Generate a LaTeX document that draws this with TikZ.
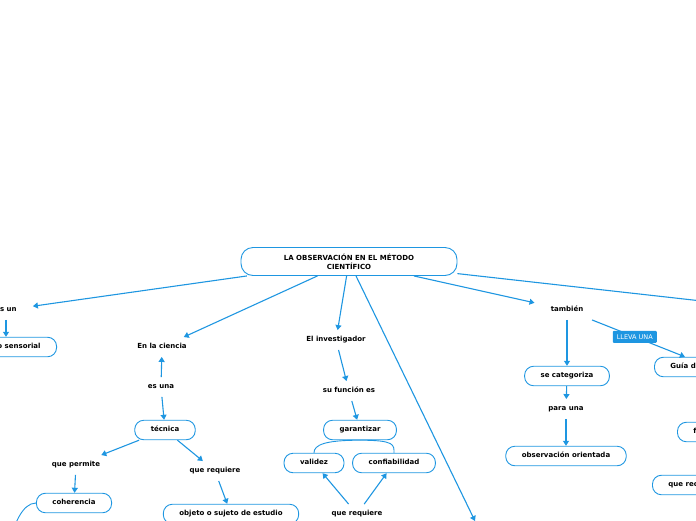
\documentclass[tikz,border=0pt]{standalone}
\usepackage{fontspec}
\setmainfont{DejaVu Sans}
\usetikzlibrary{arrows.meta}
\definecolor{azul}{RGB}{30,150,225}

\begin{document}
\begin{tikzpicture}[x=1pt,y=-1pt]
        \tikzstyle{texto}=[inner xsep=16pt,inner ysep=0pt,minimum height=19.5pt,text height=4.8pt,text depth=2.2pt,font=\fontsize{7}{9}\selectfont\bfseries]
        \tikzstyle{caja}=[texto,draw=azul,line width=0.9pt,rounded corners=9pt]
        \tikzstyle{raiz}=[caja,align=center,text height=,text depth=,minimum width=216pt,minimum height=28pt,rounded corners=12pt]
        \tikzstyle{flecha}=[draw=azul,line width=1.1pt,-{Triangle[width=6pt,length=5pt]}]
        \tikzstyle{rama}=[draw=azul,line width=0.9pt]
        \tikzstyle{etiqueta}=[fill=azul,text=white,rounded corners=1pt,inner xsep=4pt,inner ysep=0pt,minimum height=12pt,font=\fontsize{6.5}{7}\selectfont]
        \clip (0,0) rectangle (696,520);
        \node[raiz] (raiz) at (349,261.5) {LA OBSERVACIÓN EN EL MÉTODO\\CIENTÍFICO};
        \node[texto] (esun) at (6,310) {Es un};
        \node[caja,anchor=east] (sensorial) at (57,347) {proceso sensorial};
        \node[texto] (ciencia) at (162,347) {En la ciencia};
        \node[texto] (esuna) at (161,387) {es una};
        \node[caja] (tecnica) at (165,430) {técnica};
        \node[texto] (permite) at (76,465) {que permite};
        \node[texto] (requiere) at (215,471) {que requiere};
        \node[caja] (coherencia) at (74,503) {coherencia};
        \node[caja] (objeto) at (231,514) {objeto o sujeto de estudio};
        \node[texto] (investigador) at (336,340) {El investigador};
        \node[texto] (funcion) at (349,391) {su función es};
        \node[caja] (garantizar) at (360,430) {garantizar};
        \node[caja] (validez) at (314,463) {validez};
        \node[caja] (confiabilidad) at (394,463) {confiabilidad};
        \node[texto] (requieredos) at (357,514) {que requiere};
        \node[texto] (tambien) at (567,310) {también};
        \node[caja] (categoriza) at (567,376) {se categoriza};
        \node[texto] (parauna) at (566,409) {para una};
        \node[caja] (orientada) at (566,456) {observación orientada};
        \node[caja,anchor=west] (guia) at (654,367) {Guía de observación};
        \node[caja,anchor=west] (formato) at (677,432) {formato};
        \node[caja,anchor=west] (recoge) at (652,485) {que recoge};
        \coordinate (derecha) at (800,312);
        \coordinate (abajo) at (475,521);
        \coordinate (abajoizq) at (10,540);
        \draw[flecha] (raiz) -- (esun);
        \draw[flecha] (esun.south) -- (esun.south |- sensorial.north);
        \draw[flecha] (raiz) -- (ciencia);
        \draw[flecha] (esuna) -- (ciencia);
        \draw[flecha] (esuna) -- (tecnica);
        \draw[flecha] (tecnica) -- (permite);
        \draw[flecha] (tecnica) -- (requiere);
        \draw[flecha] (permite) -- (coherencia);
        \draw[flecha] (requiere) -- (objeto);
        \draw[rama] (coherencia.west) .. controls +(-14,0) and +(4,-14) .. (abajoizq);
        \draw[flecha] (raiz) -- (investigador);
        \draw[flecha] (investigador) -- (funcion);
        \draw[flecha] (funcion) -- (garantizar);
        \draw[rama] (garantizar.south) .. controls +(-35,0) and +(0,-8) .. (validez.north);
        \draw[rama] (garantizar.south) .. controls +(35,0) and +(0,-8) .. (confiabilidad.north);
        \draw[flecha] (requieredos) -- (validez);
        \draw[flecha] (requieredos) -- (confiabilidad);
        \draw[flecha] (raiz) -- (abajo);
        \draw[flecha] (raiz) -- (tambien);
        \draw[flecha] (raiz) -- (derecha);
        \draw[flecha] (tambien) -- (categoriza);
        \draw[flecha] (categoriza) -- (parauna);
        \draw[flecha] (parauna) -- (orientada);
        \draw[flecha] (tambien) -- node[etiqueta,pos=0.46] {LLEVA UNA} (guia);
    \end{tikzpicture}
\end{document}
